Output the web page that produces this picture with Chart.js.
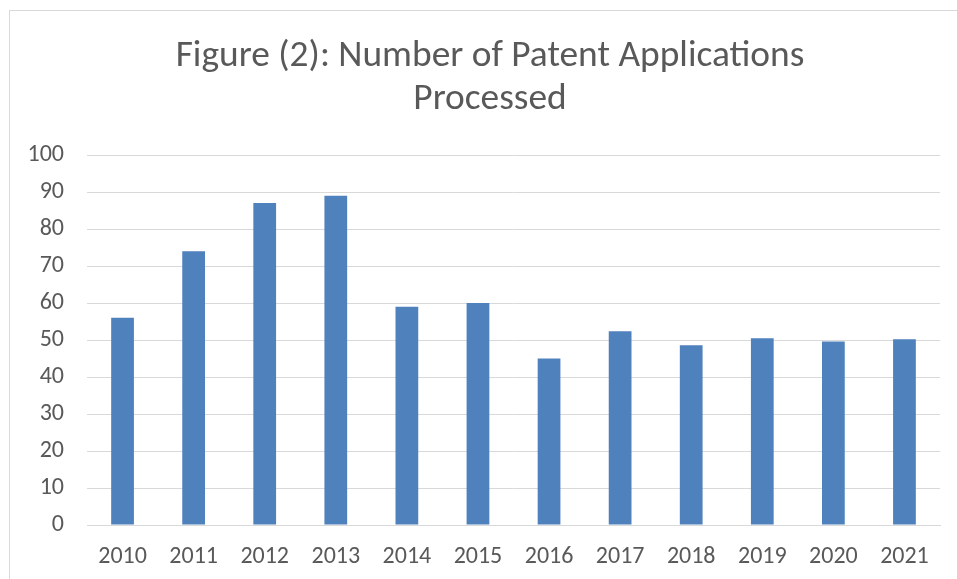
<!DOCTYPE html>
<html>
<head>
<meta charset="utf-8">
<script src="https://cdn.jsdelivr.net/npm/chart.js@4"></script>
<style>
    body { margin: 0; background: #fff; overflow: hidden; }
    #frame {
        position: absolute;
        left: 9px;
        top: 10px;
        width: 947px;
        height: 580px;
        border: 1px solid #d9d9d9;
    }
    #patent-chart { display: block; }
</style>
</head>
<body>
<div id="frame">
    <canvas id="patent-chart" width="947" height="568" style="width:947px;height:568px"></canvas>
</div>
<script>
const years = ["2010", "2011", "2012", "2013", "2014", "2015", "2016", "2017", "2018", "2019", "2020", "2021"];
const applications = [56, 74, 87, 89, 59, 60, 45, 52.4, 48.6, 50.5, 49.6, 50.2];
const titleLines = ["Figure (2): Number of Patent Applications", "Processed"];
const yTicks = { min: 0, max: 100, step: 10 };

const fontFamily = "Carlito, 'Open Sans', sans-serif";
const textGray = '#595959';

const patentCanvas = document.getElementById("patent-chart");

// the original title sits a little right of the canvas centre
const titleShift = {
    id: 'titleShift',
    afterLayout(chart) {
        if (chart.titleBlock) {
            chart.titleBlock.left += 30;
        }
    }
};

let patentData = {
    labels: years,
    datasets: [{
        data: applications,
        backgroundColor: '#4f81bd',
        borderWidth: 0,
        categoryPercentage: 1,
        barPercentage: 0.32
    }]
};

let patentOptions = {
    responsive: false,
    animation: false,
    layout: {
        padding: { left: 0, right: 17, top: 0, bottom: 0 }
    },
    scales: {
        x: {
            grid: { display: false },
            border: { display: true, color: '#d9d9d9', width: 1 },
            ticks: {
                color: textGray,
                font: { family: fontFamily, size: 24 },
                padding: 10,
                maxRotation: 0
            },
            afterFit: (scale) => { scale.height = 54; }
        },
        y: {
            min: yTicks.min,
            max: yTicks.max,
            grid: { color: '#d9d9d9', lineWidth: 1, drawTicks: false },
            border: { display: false },
            ticks: {
                stepSize: yTicks.step,
                color: textGray,
                font: { family: fontFamily, size: 24 },
                padding: 23
            },
            afterFit: (scale) => { scale.width = 77; }
        }
    },
    plugins: {
        legend: { display: false },
        tooltip: { enabled: false },
        title: {
            display: true,
            text: titleLines,
            color: textGray,
            font: { family: fontFamily, size: 37.4, weight: 'normal', lineHeight: 1.15 },
            padding: { top: 24, bottom: 34 }
        }
    }
};

let patentChart = new Chart(patentCanvas, {
    type: 'bar',
    data: patentData,
    options: patentOptions,
    plugins: [titleShift]
});
</script>
</body>
</html>
